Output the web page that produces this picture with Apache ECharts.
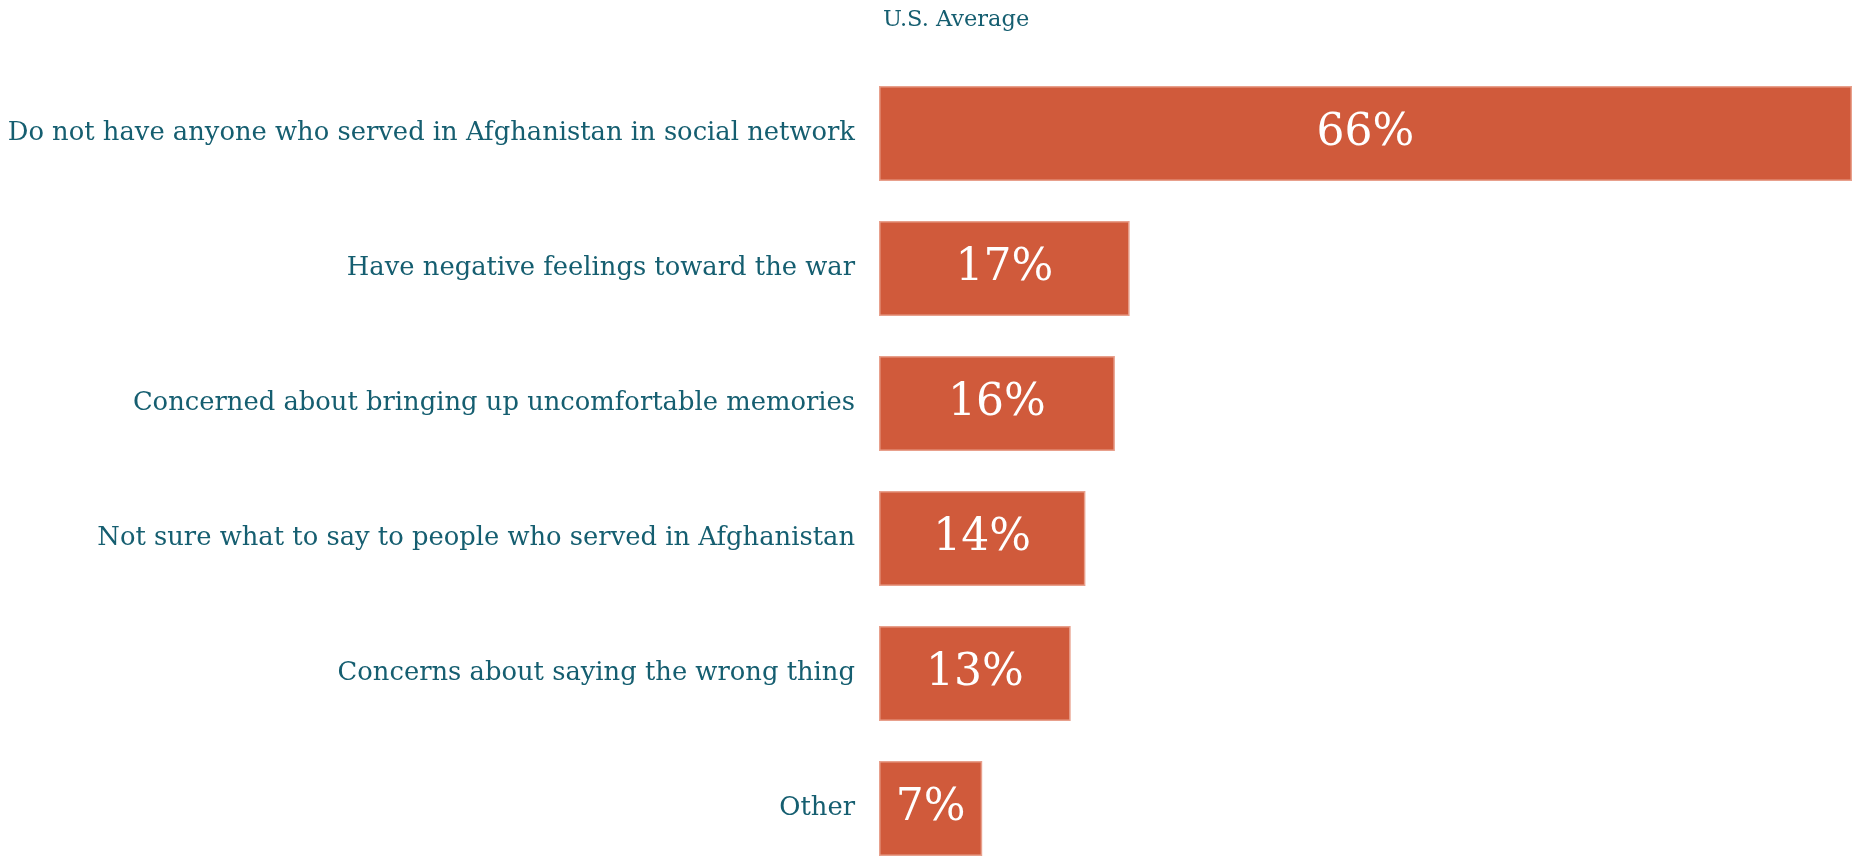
<!DOCTYPE html>
<html>
	<head>
		<title>U.S. Average</title>
		<meta charset="utf-8">
		<style>
html, body {
	width: 100%;
	height: 100%;
	margin: 0;
}
#box1 {
	width: 1854px;
	height: 856px;
}
		</style>
	</head>
	<body>
		<div id="box1"></div>
	</body>
	<script src="https://cdn.jsdelivr.net/npm/echarts@6/dist/echarts.min.js"></script>
	<script type="text/javascript">
var categories = [
	'Do not have anyone who served in Afghanistan in social network',
	'Have negative feelings toward the war',
	'Concerned about bringing up uncomfortable memories',
	'Not sure what to say to people who served in Afghanistan',
	'Concerns about saying the wrong thing',
	'Other'
];
var values = [66, 17, 16, 14, 13, 7];
var seriesName = 'U.S. Average';

var textColor = '#155e70';
var font = '"DejaVu Serif", "Liberation Serif", serif';

var myChart = echarts.init(document.getElementById('box1'));

var option = {
	backgroundColor: '#fff',
	animation: false,
	title: {
		text: seriesName,
		left: 878,
		top: 4,
		textStyle: {
			color: textColor,
			fontFamily: font,
			fontWeight: 'normal',
			fontSize: 22.5
		}
	},
	grid: {
		left: 879,
		right: 2,
		top: 66,
		height: 810,
		containLabel: false,
		outerBoundsMode: 'none'
	},
	xAxis: {
		type: 'value',
		min: 0,
		max: 66,
		show: false
	},
	yAxis: {
		type: 'category',
		inverse: true,
		data: categories,
		axisLine: { show: false },
		axisTick: { show: false },
		axisLabel: {
			margin: 24,
			color: textColor,
			fontFamily: font,
			fontSize: 25.8
		}
	},
	series: [{
		type: 'bar',
		name: seriesName,
		data: values,
		barWidth: 95,
		itemStyle: {
			color: '#d05a3b',
			borderColor: '#e8a08c',
			borderWidth: 1.5
		},
		label: {
			show: true,
			position: 'inside',
			formatter: '{c}%',
			color: '#fff',
			fontFamily: font,
			fontSize: 44
		}
	}]
};

myChart.setOption(option);

window.addEventListener('resize', () => {
	myChart.resize()
})
	</script>
</html>
